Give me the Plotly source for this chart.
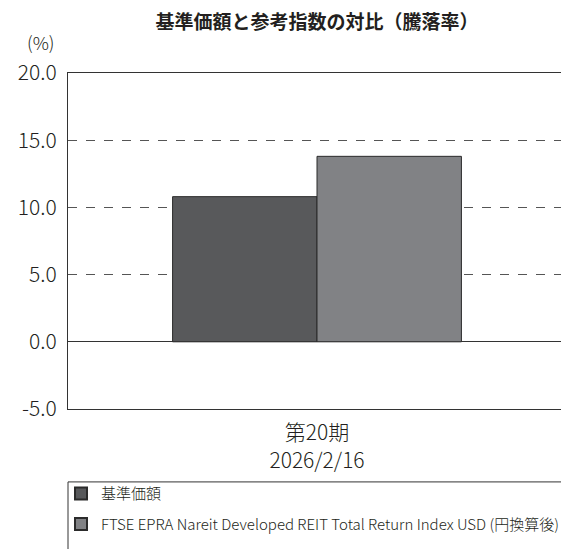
import plotly.graph_objects as go

categories = ["第20期<br>2026/2/16"]
series_names = ["基準価額", "FTSE EPRA Nareit Developed REIT Total Return Index USD (円換算後)"]
fund_values = [10.8]
index_values = [13.8]
colors = ["#58595b", "#818285"]
y_ticks = [-5, 0, 5, 10, 15, 20]
y_ticktext = ["-5.0", "0.0", "5.0", "10.0", "15.0", "20.0"]

FONT = "Noto Sans CJK JP"

fig = go.Figure()
fig.add_trace(go.Bar(x=categories, y=fund_values, name=series_names[0], legendgroup="a",
                     marker=dict(color=colors[0], line=dict(color="#2b2b2b", width=1))))
fig.add_trace(go.Bar(x=categories, y=index_values, name=series_names[1], legendgroup="b",
                     marker=dict(color=colors[1], line=dict(color="#2b2b2b", width=1))))

# page body has an 8px margin, so figure is sized/offset to compensate
fig.update_layout(
    width=561, height=541,
    margin=dict(l=60, r=3, t=65, b=140),
    paper_bgcolor="white", plot_bgcolor="white",
    barmode="group", bargap=0.42, bargroupgap=0,
    font=dict(family=FONT, color="#231f20", weight=300),
    title=dict(text="<b>基準価額と参考指数の対比（騰落率）</b>", x=0.5, xref="paper",
               y=0.973, yanchor="middle", font=dict(size=19, family=FONT, weight=700)),
    showlegend=True,
    legend=dict(x=-0.014, xanchor="left", y=-0.203, yanchor="top",
                font=dict(size=15, family=FONT, weight=300), bgcolor="rgba(0,0,0,0)",
                tracegroupgap=8, itemsizing="constant"),
)
fig.update_yaxes(range=[-5, 20], tickvals=y_ticks, ticktext=y_ticktext,
                 tickfont=dict(size=21, family=FONT, weight=300), showgrid=True,
                 gridcolor="#555555", griddash="dash", gridwidth=1,
                 zeroline=True, zerolinecolor="#333333", zerolinewidth=1,
                 showline=True, linecolor="#333333", linewidth=1, mirror=True,
                 ticks="", ticklabelstandoff=6)
fig.update_xaxes(showline=True, linecolor="#333333", linewidth=1, mirror=True,
                 tickfont=dict(size=21, family=FONT, weight=300), ticks="",
                 ticklabelstandoff=5)

fig.add_annotation(text="(%)", xref="paper", yref="paper", x=-0.054, y=1.092,
                   xanchor="center", yanchor="middle",
                   showarrow=False, font=dict(size=18, family=FONT, weight=300))
fig.add_shape(type="rect", xref="paper", yref="paper", x0=0, x1=1.0,
              y0=-0.47, y1=-0.217, line=dict(color="#333333", width=1))

fig.write_html("out.html")
